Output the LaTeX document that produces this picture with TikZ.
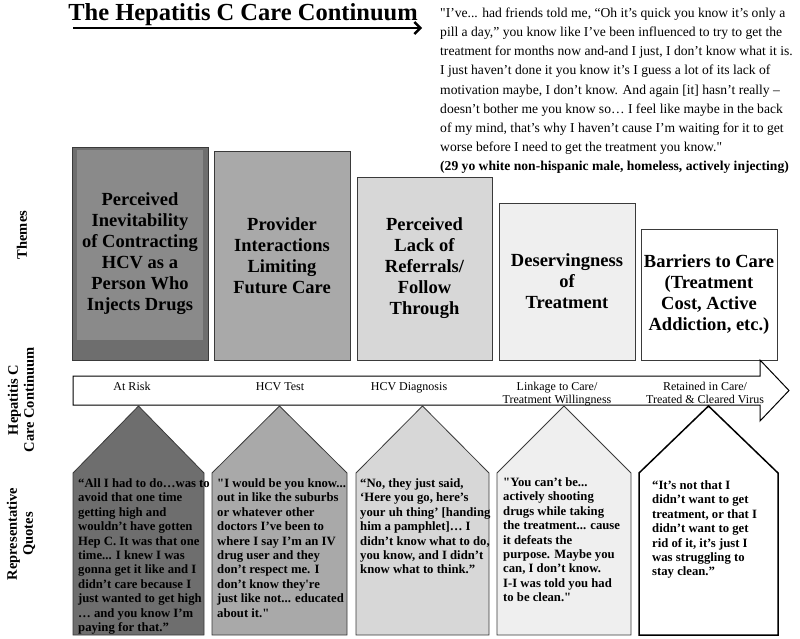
\documentclass[tikz,border=0pt]{standalone}
\usepackage{fontspec}
\setmainfont{Liberation Serif}[Ligatures=TeXOff]
\usepackage{xcolor}
\usepackage{tikz}
\usetikzlibrary{arrows.meta,positioning,calc}

\definecolor{shadeA}{HTML}{6E6E6E}
\definecolor{shadeAin}{HTML}{8A8A8A}
\definecolor{shadeB}{HTML}{A9A9A9}
\definecolor{shadeC}{HTML}{D7D7D7}
\definecolor{shadeD}{HTML}{EFEFEF}
\definecolor{edge}{HTML}{3A3A3A}

\begin{document}
\begin{tikzpicture}[x=1pt,y=-1pt,
    theme/.style={draw=edge, line width=0.8pt, minimum width=136, inner sep=2pt, align=center,
        font=\fontsize{18.5}{21}\selectfont\bfseries},
    quote/.style={draw=edge, line width=0.8pt},
    quotetext/.style={anchor=north west, inner sep=0pt, align=left,
        font=\fontsize{12.7}{14.4}\selectfont\bfseries},
    stage/.style={inner sep=0pt, align=center, font=\fontsize{12}{13}\selectfont},
    rowlabel/.style={rotate=90, align=center, font=\fontsize{14.5}{16}\selectfont\bfseries}]
    \useasboundingbox (0,0) rectangle (800,638);

    % Title
    \node[anchor=base, font=\fontsize{24.5}{28}\selectfont\bfseries] (title) at (243,20) {The Hepatitis C Care Continuum};
    \coordinate (titlestart) at (73,28);
    \coordinate (titleend) at (422,28);
    \draw[line width=2.4pt, -{Straight Barb[length=6pt,width=12pt]}] (titlestart) -- (titleend);

    % Quote at top right
    \node[anchor=north west, align=left, inner sep=0pt, font=\fontsize{13.6}{19.2}\selectfont] (topquote) at (440,7.5)
        {"I’ve... had friends told me, “Oh it’s quick you know it’s only a\\
         pill a day,” you know like I’ve been influenced to try to get the\\
         treatment for months now and-and I just, I don’t know what it is.\\
         I just haven’t done it you know it’s I guess a lot of its lack of\\
         motivation maybe, I don’t know. And again [it] hasn’t really –\\
         doesn’t bother me you know so… I feel like maybe in the back\\
         of my mind, that’s why I haven’t cause I’m waiting for it to get\\
         worse before I need to get the treatment you know."\\
         \textbf{(29 yo white non-hispanic male, homeless, actively injecting)}};

    % Row labels
    \node[rowlabel] (themes) at (22,235) {Themes};
    \node[rowlabel] (continuum) at (21,400) {Hepatitis C\\Care Continuum};
    \node[rowlabel] (quotes) at (21,534) {Representative\\Quotes};

    % Themes
    \node[theme, fill=shadeA, minimum height=213,
        path picture={\fill[shadeAin] ([xshift=5pt,yshift=-3pt]path picture bounding box.north west)
            rectangle ([xshift=-5pt,yshift=20pt]path picture bounding box.south east);}]
        (th1) at (140,253.5) {Perceived\\Inevitability\\of Contracting\\HCV as a\\Person Who\\Injects Drugs};
    \node[theme, fill=shadeB, minimum height=208.5] (th2) at (282,255.75) {Provider\\Interactions\\Limiting\\Future Care};
    \node[theme, fill=shadeC, minimum height=183, minimum width=135] (th3) at (424.5,268.5) {Perceived\\Lack of\\Referrals/\\Follow\\Through};
    \node[theme, fill=shadeD, minimum height=157] (th4) at (567,281.5) {Deservingness\\of\\Treatment};
    \node[theme, fill=white, minimum height=130.5] (th5) at (709,294.75) {Barriers to Care\\(Treatment\\Cost, Active\\Addiction, etc.)};

    % Continuum arrow
    \draw[line width=1pt, fill=white] (73,376) -- (760,376) -- (760,360) -- (789,390.5) -- (760,421) -- (760,405) -- (73,405) -- cycle;
    \node[stage, anchor=base] (s1) at (132,390) {At Risk};
    \node[stage, anchor=base] (s2) at (280,390) {HCV Test};
    \node[stage, anchor=base] (s3) at (409,390) {HCV Diagnosis};
    \node[stage, anchor=north] (s4) at (557,381.8) {Linkage to Care/\\Treatment Willingness};
    \node[stage, anchor=north] (s5) at (705,381.8) {Retained in Care/\\Treated \& Cleared Virus};

    % Quotes
    \draw[quote, fill=shadeA] (73,473) -- (138.5,406) -- (204,473) -- (204,635) -- (73,635) -- cycle;
    \draw[quote, fill=shadeB] (212,473) -- (279.5,406) -- (347,473) -- (347,635) -- (212,635) -- cycle;
    \draw[quote, fill=shadeC] (356,473) -- (422.5,406) -- (489,473) -- (489,635) -- (356,635) -- cycle;
    \draw[quote, fill=shadeD] (497,473) -- (564,406) -- (631,473) -- (631,635) -- (497,635) -- cycle;
    \draw[line width=1.5pt, fill=white] (639,473) -- (708.5,406) -- (778,473) -- (778,635) -- (639,635) -- cycle;

    \node[quotetext] (q1) at (78,478.5)
        {“All I had to do…was to\\avoid that one time\\getting high and\\wouldn’t have gotten\\Hep C. It was that one\\time... I knew I was\\gonna get it like and I\\didn’t care because I\\just wanted to get high\\… and you know I’m\\paying for that.”};
    \node[quotetext] (q2) at (217,478.5)
        {"I would be you know...\\out in like the suburbs\\or whatever other\\doctors I’ve been to\\where I say I’m an IV\\drug user and they\\don’t respect me. I\\don’t know they're\\just like not... educated\\about it."};
    \node[quotetext] (q3) at (360,478.5)
        {“No, they just said,\\‘Here you go, here’s\\your uh thing’ [handing\\him a pamphlet]… I\\didn’t know what to do,\\you know, and I didn’t\\know what to think.”};
    \node[quotetext] (q4) at (503,477.5)
        {"You can’t be...\\actively shooting\\drugs while taking\\the treatment... cause\\it defeats the\\purpose. Maybe you\\can, I don’t know.\\I-I was told you had\\to be clean."};
    \node[quotetext] (q5) at (652,480.5)
        {“It’s not that I\\didn’t want to get\\treatment, or that I\\didn’t want to get\\rid of it, it’s just I\\was struggling to\\stay clean.”};
\end{tikzpicture}
\end{document}
